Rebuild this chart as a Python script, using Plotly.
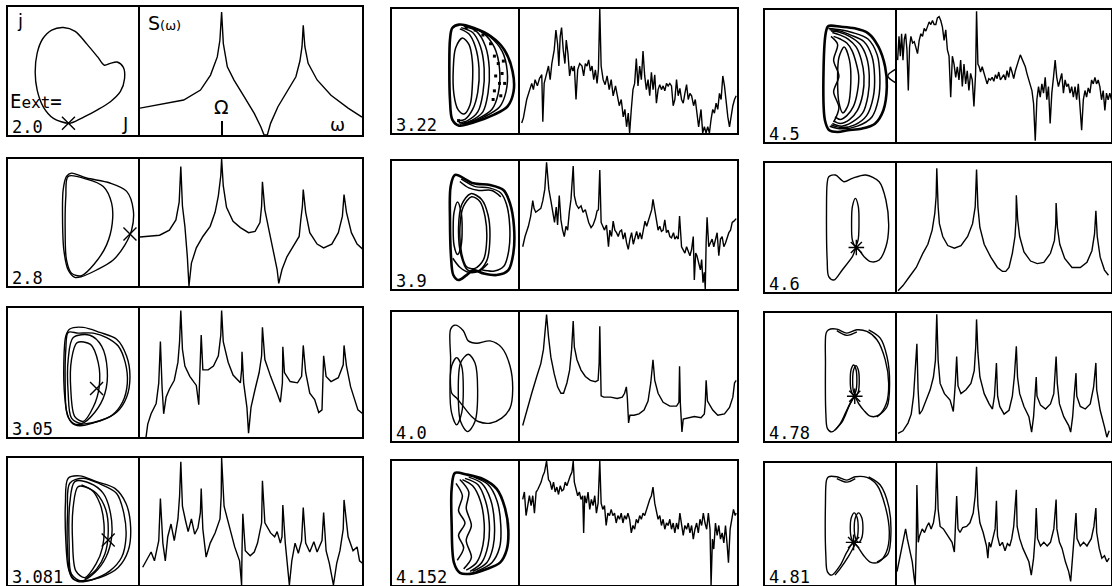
import plotly.graph_objects as go

W, H = 1112, 586

# ---------------------------------------------------------------------------
# Power spectra S(w): pairs (w / Omega, S), S normalised to panel height
# ---------------------------------------------------------------------------
S_2_0 = [(0.0, 0.21), (0.535, 0.273), (0.741, 0.351), (0.864, 0.468), (0.947, 0.61),
         (0.979, 0.74), (1.0, 0.96), (1.021, 0.714), (1.07, 0.532), (1.152, 0.429),
         (1.276, 0.299), (1.40, 0.169), (1.48, 0.065), (1.52, 0.0), (1.56, 0.0),
         (1.60, 0.091), (1.69, 0.221), (1.81, 0.351), (1.91, 0.455), (1.96, 0.58),
         (1.985, 0.69), (2.0, 0.857), (2.02, 0.69), (2.06, 0.56), (2.17, 0.43),
         (2.34, 0.31), (2.55, 0.21), (2.72, 0.14)]

S_2_8 = [(0.0, 0.386), (0.24, 0.40), (0.36, 0.44), (0.44, 0.52), (0.48, 0.66), (0.5, 0.94),
         (0.52, 0.63), (0.55, 0.47), (0.58, 0.23), (0.60, 0.0), (0.63, 0.18), (0.69, 0.30),
         (0.77, 0.39), (0.86, 0.47), (0.92, 0.58), (0.96, 0.71), (0.99, 0.87), (1.0, 1.0),
         (1.02, 0.79), (1.06, 0.62), (1.14, 0.51), (1.23, 0.46), (1.33, 0.42), (1.41, 0.43),
         (1.47, 0.50), (1.49, 0.63), (1.5, 0.82), (1.53, 0.60), (1.58, 0.44), (1.63, 0.29),
         (1.68, 0.13), (1.70, 0.02), (1.74, 0.13), (1.80, 0.23), (1.88, 0.31), (1.95, 0.39),
         (1.97, 0.52), (1.99, 0.63), (2.0, 0.76), (2.03, 0.58), (2.08, 0.42), (2.17, 0.33),
         (2.25, 0.30), (2.35, 0.33), (2.43, 0.42), (2.48, 0.55), (2.5, 0.72), (2.53, 0.58),
         (2.59, 0.42), (2.66, 0.33), (2.73, 0.29)]

S_3_05 = [(0.074, 0.0), (0.095, 0.10), (0.136, 0.18), (0.198, 0.26), (0.23, 0.42), (0.25, 0.74),
          (0.27, 0.39), (0.29, 0.18), (0.32, 0.31), (0.36, 0.37), (0.42, 0.44), (0.465, 0.58),
          (0.485, 0.74), (0.5, 0.98), (0.52, 0.68), (0.55, 0.55), (0.61, 0.47), (0.69, 0.40),
          (0.72, 0.25), (0.74, 0.55), (0.75, 0.79), (0.77, 0.52), (0.835, 0.52), (0.90, 0.55),
          (0.96, 0.63), (0.99, 0.79), (1.0, 0.98), (1.02, 0.74), (1.08, 0.58), (1.14, 0.48),
          (1.23, 0.42), (1.245, 0.52), (1.25, 0.66), (1.27, 0.42), (1.31, 0.23), (1.33, 0.03),
          (1.36, 0.23), (1.41, 0.37), (1.46, 0.50), (1.49, 0.63), (1.5, 0.85), (1.53, 0.60),
          (1.60, 0.47), (1.68, 0.34), (1.72, 0.27), (1.745, 0.42), (1.75, 0.70), (1.77, 0.50),
          (1.84, 0.43), (1.93, 0.42), (1.98, 0.47), (1.99, 0.58), (2.0, 0.71), (2.03, 0.50),
          (2.08, 0.34), (2.14, 0.29), (2.19, 0.19), (2.23, 0.21), (2.245, 0.44), (2.25, 0.63),
          (2.28, 0.47), (2.34, 0.43), (2.43, 0.46), (2.49, 0.56), (2.5, 0.71), (2.53, 0.55),
          (2.58, 0.39), (2.62, 0.31), (2.67, 0.21), (2.73, 0.18)]

S_3_081 = [(0.033, 0.14), (0.136, 0.26), (0.177, 0.19), (0.23, 0.35), (0.25, 0.68), (0.28, 0.33),
           (0.31, 0.19), (0.34, 0.38), (0.38, 0.48), (0.42, 0.35), (0.465, 0.52), (0.485, 0.70),
           (0.5, 0.97), (0.52, 0.62), (0.56, 0.50), (0.59, 0.42), (0.63, 0.52), (0.67, 0.40),
           (0.71, 0.45), (0.74, 0.57), (0.75, 0.76), (0.77, 0.44), (0.81, 0.22), (0.86, 0.33),
           (0.92, 0.41), (0.98, 0.52), (0.995, 0.70), (1.0, 1.0), (1.03, 0.62), (1.10, 0.44),
           (1.16, 0.30), (1.22, 0.19), (1.245, 0.0), (1.25, 0.27), (1.26, 0.56), (1.29, 0.27),
           (1.35, 0.23), (1.40, 0.26), (1.44, 0.33), (1.49, 0.49), (1.5, 0.82), (1.53, 0.49),
           (1.60, 0.41), (1.65, 0.38), (1.68, 0.42), (1.72, 0.33), (1.74, 0.38), (1.75, 0.63),
           (1.78, 0.33), (1.83, 0.0), (1.86, 0.19), (1.90, 0.33), (1.94, 0.25), (1.98, 0.35),
           (2.0, 0.61), (2.03, 0.33), (2.08, 0.26), (2.13, 0.34), (2.17, 0.26), (2.23, 0.35),
           (2.25, 0.57), (2.28, 0.27), (2.32, 0.17), (2.37, 0.0), (2.41, 0.17), (2.45, 0.27),
           (2.49, 0.44), (2.5, 0.67), (2.55, 0.38), (2.61, 0.27), (2.66, 0.30), (2.69, 0.19),
           (2.73, 0.17)]

S_3_22 = [(0.021, 0.08), (0.042, 0.12), (0.084, 0.27), (0.118, 0.35), (0.147, 0.40), (0.168, 0.35),
          (0.189, 0.43), (0.218, 0.38), (0.244, 0.44), (0.273, 0.47), (0.286, 0.09), (0.303, 0.40),
          (0.328, 0.46), (0.357, 0.54), (0.378, 0.43), (0.399, 0.56), (0.429, 0.67), (0.450, 0.83),
          (0.471, 0.72), (0.487, 0.54), (0.504, 0.78), (0.521, 0.85), (0.542, 0.67), (0.563, 0.56),
          (0.580, 0.75), (0.601, 0.64), (0.622, 0.46), (0.643, 0.54), (0.664, 0.50), (0.681, 0.54),
          (0.702, 0.27), (0.723, 0.51), (0.748, 0.56), (0.777, 0.54), (0.798, 0.46), (0.819, 0.56),
          (0.840, 0.54), (0.861, 0.59), (0.882, 0.50), (0.903, 0.54), (0.924, 0.43), (0.945, 0.51),
          (0.966, 0.40), (0.983, 0.51), (1.0, 1.0), (1.017, 0.54), (1.042, 0.43), (1.067, 0.39),
          (1.092, 0.46), (1.118, 0.35), (1.143, 0.43), (1.168, 0.30), (1.197, 0.38), (1.218, 0.30),
          (1.244, 0.22), (1.269, 0.27), (1.294, 0.13), (1.315, 0.19), (1.336, 0.05), (1.357, 0.16),
          (1.374, 0.0), (1.395, 0.19), (1.416, 0.35), (1.437, 0.40), (1.458, 0.60), (1.479, 0.38),
          (1.500, 0.54), (1.521, 0.43), (1.542, 0.66), (1.563, 0.46), (1.584, 0.35), (1.605, 0.43),
          (1.626, 0.30), (1.647, 0.49), (1.668, 0.35), (1.689, 0.47), (1.710, 0.24), (1.731, 0.35),
          (1.752, 0.39), (1.773, 0.35), (1.794, 0.38), (1.815, 0.34), (1.836, 0.40), (1.857, 0.38),
          (1.878, 0.40), (1.899, 0.38), (1.920, 0.22), (1.941, 0.27), (1.962, 0.43), (1.983, 0.30),
          (2.004, 0.36), (2.025, 0.27), (2.046, 0.24), (2.067, 0.32), (2.088, 0.39), (2.109, 0.27),
          (2.130, 0.32), (2.151, 0.30), (2.176, 0.22), (2.197, 0.27), (2.218, 0.13), (2.239, 0.05),
          (2.269, 0.19), (2.290, 0.0), (2.311, 0.05), (2.332, 0.0), (2.353, 0.05), (2.374, 0.0),
          (2.395, 0.11), (2.416, 0.19), (2.437, 0.16), (2.458, 0.24), (2.479, 0.19), (2.500, 0.32),
          (2.521, 0.27), (2.542, 0.46), (2.563, 0.38), (2.584, 0.22), (2.605, 0.13), (2.626, 0.05),
          (2.647, 0.16), (2.668, 0.22), (2.689, 0.27), (2.710, 0.30)]

S_3_9 = [(0.034, 0.33), (0.063, 0.41), (0.105, 0.49), (0.134, 0.57), (0.160, 0.69), (0.176, 0.63),
         (0.197, 0.60), (0.231, 0.62), (0.261, 0.63), (0.286, 0.69), (0.311, 0.78), (0.333, 0.99),
         (0.361, 0.78), (0.387, 0.69), (0.412, 0.60), (0.433, 0.52), (0.454, 0.64), (0.471, 0.50),
         (0.492, 0.73), (0.513, 0.54), (0.534, 0.46), (0.555, 0.41), (0.576, 0.49), (0.597, 0.46),
         (0.618, 0.60), (0.639, 0.70), (0.667, 0.96), (0.681, 0.73), (0.706, 0.66), (0.735, 0.63),
         (0.765, 0.65), (0.790, 0.60), (0.819, 0.62), (0.840, 0.57), (0.861, 0.52), (0.891, 0.48),
         (0.916, 0.50), (0.945, 0.55), (0.966, 0.61), (0.983, 0.62), (1.0, 0.93), (1.017, 0.52),
         (1.038, 0.49), (1.059, 0.46), (1.084, 0.50), (1.109, 0.33), (1.126, 0.46), (1.147, 0.41),
         (1.168, 0.53), (1.189, 0.46), (1.210, 0.44), (1.231, 0.41), (1.252, 0.45), (1.273, 0.46),
         (1.294, 0.39), (1.315, 0.44), (1.336, 0.36), (1.357, 0.31), (1.378, 0.39), (1.399, 0.44),
         (1.420, 0.35), (1.441, 0.41), (1.462, 0.45), (1.483, 0.39), (1.504, 0.44), (1.525, 0.39),
         (1.546, 0.46), (1.567, 0.53), (1.588, 0.49), (1.609, 0.54), (1.630, 0.58), (1.651, 0.62),
         (1.667, 0.70), (1.689, 0.60), (1.710, 0.54), (1.731, 0.46), (1.752, 0.49), (1.773, 0.45),
         (1.794, 0.46), (1.815, 0.54), (1.836, 0.44), (1.857, 0.46), (1.878, 0.41), (1.899, 0.40),
         (1.924, 0.44), (1.941, 0.39), (1.962, 0.41), (1.983, 0.39), (2.0, 0.57), (2.025, 0.33),
         (2.046, 0.31), (2.067, 0.28), (2.088, 0.33), (2.109, 0.30), (2.130, 0.26), (2.151, 0.31),
         (2.172, 0.41), (2.185, 0.07), (2.202, 0.28), (2.218, 0.26), (2.239, 0.20), (2.261, 0.15),
         (2.277, 0.23), (2.294, 0.05), (2.311, 0.13), (2.322, 0.0), (2.333, 0.36), (2.345, 0.56),
         (2.366, 0.33), (2.387, 0.36), (2.408, 0.39), (2.429, 0.33), (2.450, 0.39), (2.471, 0.44),
         (2.492, 0.26), (2.513, 0.39), (2.534, 0.41), (2.555, 0.33), (2.576, 0.36), (2.597, 0.41),
         (2.618, 0.44), (2.639, 0.46), (2.660, 0.52), (2.681, 0.53), (2.710, 0.55)]

S_4_0 = [(0.034, 0.12), (0.084, 0.24), (0.147, 0.37), (0.210, 0.50), (0.261, 0.60), (0.294, 0.71),
         (0.319, 0.86), (0.333, 0.98), (0.357, 0.81), (0.387, 0.65), (0.429, 0.52), (0.471, 0.42),
         (0.513, 0.37), (0.546, 0.37), (0.588, 0.45), (0.622, 0.55), (0.647, 0.71), (0.667, 0.93),
         (0.681, 0.73), (0.714, 0.63), (0.765, 0.55), (0.819, 0.50), (0.882, 0.47), (0.945, 0.46),
         (0.979, 0.47), (0.992, 0.60), (1.0, 0.89), (1.008, 0.60), (1.017, 0.35), (1.050, 0.34),
         (1.134, 0.34), (1.218, 0.33), (1.282, 0.34), (1.311, 0.37), (1.333, 0.42), (1.345, 0.34),
         (1.361, 0.14), (1.378, 0.20), (1.429, 0.20), (1.492, 0.21), (1.555, 0.24), (1.605, 0.31),
         (1.639, 0.45), (1.667, 0.63), (1.689, 0.47), (1.731, 0.37), (1.794, 0.30), (1.878, 0.27),
         (1.962, 0.27), (1.992, 0.30), (2.0, 0.58), (2.01, 0.29), (2.03, 0.07), (2.046, 0.17),
         (2.10, 0.18), (2.185, 0.19), (2.269, 0.18), (2.311, 0.21), (2.322, 0.29), (2.333, 0.47),
         (2.35, 0.31), (2.416, 0.24), (2.479, 0.20), (2.563, 0.21), (2.626, 0.26), (2.668, 0.34),
         (2.689, 0.45), (2.710, 0.47)]

S_4_152 = [(0.034, 0.69), (0.055, 0.75), (0.076, 0.56), (0.097, 0.66), (0.118, 0.72), (0.139, 0.64),
           (0.160, 0.72), (0.181, 0.58), (0.202, 0.75), (0.223, 0.77), (0.244, 0.80), (0.265, 0.83),
           (0.286, 0.88), (0.307, 0.91), (0.333, 1.0), (0.357, 0.85), (0.378, 0.83), (0.399, 0.77),
           (0.420, 0.83), (0.441, 0.75), (0.462, 0.79), (0.483, 0.73), (0.504, 0.80), (0.525, 0.76),
           (0.546, 0.77), (0.567, 0.83), (0.588, 0.80), (0.609, 0.85), (0.630, 0.88), (0.651, 0.91),
           (0.667, 1.0), (0.681, 0.83), (0.702, 0.77), (0.723, 0.72), (0.744, 0.75), (0.765, 0.69),
           (0.786, 0.72), (0.798, 0.42), (0.811, 0.72), (0.832, 0.66), (0.853, 0.75), (0.874, 0.61),
           (0.895, 0.69), (0.916, 0.64), (0.937, 0.72), (0.958, 0.58), (0.979, 0.66), (1.0, 1.0),
           (1.017, 0.66), (1.038, 0.61), (1.059, 0.64), (1.080, 0.48), (1.101, 0.58), (1.122, 0.56),
           (1.143, 0.61), (1.164, 0.56), (1.185, 0.58), (1.206, 0.50), (1.227, 0.56), (1.248, 0.53),
           (1.269, 0.58), (1.290, 0.50), (1.311, 0.56), (1.332, 0.53), (1.353, 0.58), (1.374, 0.53),
           (1.395, 0.42), (1.416, 0.48), (1.437, 0.45), (1.458, 0.53), (1.479, 0.50), (1.500, 0.56),
           (1.521, 0.53), (1.542, 0.58), (1.563, 0.56), (1.584, 0.61), (1.605, 0.64), (1.626, 0.69),
           (1.647, 0.72), (1.667, 0.79), (1.689, 0.66), (1.710, 0.58), (1.731, 0.53), (1.752, 0.56),
           (1.773, 0.48), (1.794, 0.53), (1.815, 0.45), (1.836, 0.50), (1.857, 0.48), (1.878, 0.53),
           (1.899, 0.45), (1.920, 0.50), (1.941, 0.42), (1.962, 0.50), (1.983, 0.45), (2.004, 0.58),
           (2.025, 0.48), (2.046, 0.40), (2.067, 0.48), (2.088, 0.45), (2.109, 0.50), (2.130, 0.42),
           (2.151, 0.48), (2.172, 0.37), (2.193, 0.45), (2.214, 0.50), (2.235, 0.42), (2.256, 0.53),
           (2.277, 0.48), (2.298, 0.58), (2.319, 0.50), (2.340, 0.45), (2.361, 0.58), (2.382, 0.45),
           (2.395, 0.0), (2.412, 0.37), (2.429, 0.29), (2.450, 0.50), (2.471, 0.40), (2.492, 0.48),
           (2.513, 0.37), (2.534, 0.42), (2.555, 0.34), (2.576, 0.48), (2.597, 0.32), (2.613, 0.18),
           (2.634, 0.45), (2.655, 0.53), (2.676, 0.61), (2.697, 0.56), (2.710, 0.58)]

S_4_5 = [(0.008, 0.62), (0.025, 0.80), (0.042, 0.65), (0.058, 0.82), (0.075, 0.62), (0.092, 0.78),
         (0.108, 0.82), (0.125, 0.70), (0.142, 0.39), (0.158, 0.72), (0.175, 0.80), (0.196, 0.75),
         (0.217, 0.76), (0.238, 0.70), (0.258, 0.67), (0.279, 0.77), (0.300, 0.82), (0.321, 0.80),
         (0.342, 0.86), (0.363, 0.84), (0.383, 0.87), (0.404, 0.91), (0.425, 0.89), (0.446, 0.92),
         (0.467, 0.89), (0.488, 0.89), (0.508, 0.94), (0.529, 0.95), (0.550, 0.92), (0.571, 0.87),
         (0.592, 0.77), (0.613, 0.85), (0.633, 0.70), (0.654, 0.65), (0.675, 0.34), (0.696, 0.65),
         (0.717, 0.59), (0.738, 0.49), (0.758, 0.57), (0.779, 0.47), (0.800, 0.62), (0.821, 0.42),
         (0.842, 0.59), (0.863, 0.44), (0.883, 0.54), (0.904, 0.39), (0.925, 0.52), (0.946, 0.47),
         (0.967, 0.27), (0.988, 0.52), (1.0, 0.99), (1.017, 0.59), (1.033, 0.57), (1.050, 0.53),
         (1.071, 0.57), (1.092, 0.52), (1.113, 0.49), (1.133, 0.44), (1.154, 0.48), (1.175, 0.47),
         (1.196, 0.49), (1.217, 0.46), (1.238, 0.51), (1.258, 0.48), (1.279, 0.53), (1.300, 0.47),
         (1.321, 0.49), (1.342, 0.51), (1.363, 0.47), (1.383, 0.54), (1.404, 0.49), (1.425, 0.57),
         (1.446, 0.53), (1.467, 0.48), (1.488, 0.54), (1.508, 0.59), (1.529, 0.62), (1.550, 0.66),
         (1.571, 0.63), (1.592, 0.59), (1.613, 0.57), (1.633, 0.52), (1.654, 0.47), (1.675, 0.44),
         (1.696, 0.39), (1.717, 0.29), (1.738, 0.01), (1.758, 0.32), (1.779, 0.42), (1.800, 0.34),
         (1.821, 0.44), (1.842, 0.37), (1.863, 0.49), (1.883, 0.32), (1.904, 0.42), (1.925, 0.14),
         (1.946, 0.37), (1.967, 0.49), (1.988, 0.62), (2.008, 0.49), (2.029, 0.42), (2.050, 0.47),
         (2.071, 0.52), (2.092, 0.37), (2.113, 0.47), (2.133, 0.42), (2.154, 0.44), (2.175, 0.37),
         (2.196, 0.42), (2.217, 0.34), (2.238, 0.42), (2.258, 0.32), (2.279, 0.44), (2.300, 0.27),
         (2.321, 0.09), (2.342, 0.32), (2.363, 0.39), (2.383, 0.34), (2.404, 0.41), (2.425, 0.37),
         (2.446, 0.47), (2.467, 0.44), (2.488, 0.49), (2.508, 0.44), (2.529, 0.47), (2.550, 0.42),
         (2.571, 0.32), (2.592, 0.39), (2.613, 0.24), (2.633, 0.37), (2.654, 0.32), (2.675, 0.37),
         (2.696, 0.32)]

S_4_6 = [(0.013, 0.01), (0.075, 0.05), (0.158, 0.12), (0.242, 0.19), (0.325, 0.30), (0.388, 0.37),
         (0.442, 0.48), (0.475, 0.61), (0.492, 0.74), (0.5, 0.96), (0.517, 0.66), (0.533, 0.53),
         (0.575, 0.43), (0.638, 0.36), (0.721, 0.34), (0.804, 0.36), (0.888, 0.43), (0.950, 0.53),
         (0.983, 0.66), (1.0, 0.95), (1.017, 0.66), (1.042, 0.50), (1.096, 0.37), (1.179, 0.27),
         (1.262, 0.19), (1.325, 0.16), (1.367, 0.16), (1.408, 0.19), (1.450, 0.30), (1.483, 0.43),
         (1.496, 0.56), (1.5, 0.75), (1.517, 0.56), (1.542, 0.43), (1.596, 0.31), (1.679, 0.24),
         (1.763, 0.22), (1.846, 0.23), (1.929, 0.30), (1.979, 0.40), (1.996, 0.53), (2.0, 0.69),
         (2.017, 0.50), (2.046, 0.37), (2.108, 0.26), (2.200, 0.19), (2.304, 0.19), (2.388, 0.23),
         (2.450, 0.32), (2.483, 0.45), (2.5, 0.63), (2.517, 0.43), (2.554, 0.27), (2.608, 0.17),
         (2.658, 0.13)]

S_4_78 = [(0.013, 0.06), (0.075, 0.08), (0.138, 0.14), (0.179, 0.21), (0.208, 0.35), (0.232, 0.55),
          (0.25, 0.76), (0.265, 0.40), (0.283, 0.21), (0.317, 0.24), (0.367, 0.32), (0.417, 0.40),
          (0.458, 0.50), (0.483, 0.63), (0.5, 0.99), (0.517, 0.63), (0.542, 0.45), (0.596, 0.37),
          (0.667, 0.32), (0.708, 0.23), (0.733, 0.45), (0.75, 0.66), (0.767, 0.43), (0.804, 0.37),
          (0.867, 0.40), (0.929, 0.45), (0.971, 0.55), (0.990, 0.74), (1.0, 0.95), (1.017, 0.69),
          (1.042, 0.50), (1.096, 0.37), (1.158, 0.29), (1.200, 0.25), (1.225, 0.35), (1.25, 0.61),
          (1.265, 0.35), (1.292, 0.27), (1.346, 0.21), (1.408, 0.24), (1.450, 0.35), (1.475, 0.50),
          (1.5, 0.74), (1.515, 0.50), (1.542, 0.37), (1.596, 0.27), (1.658, 0.19), (1.692, 0.07),
          (1.717, 0.19), (1.733, 0.35), (1.75, 0.50), (1.76, 0.35), (1.804, 0.28), (1.867, 0.25),
          (1.929, 0.29), (1.971, 0.37), (2.0, 0.66), (2.015, 0.45), (2.042, 0.29), (2.096, 0.19),
          (2.158, 0.12), (2.183, 0.07), (2.208, 0.19), (2.229, 0.37), (2.25, 0.53), (2.26, 0.35),
          (2.304, 0.27), (2.367, 0.25), (2.429, 0.29), (2.471, 0.42), (2.5, 0.61), (2.51, 0.40),
          (2.554, 0.24), (2.608, 0.11), (2.638, 0.03), (2.667, 0.08)]

S_4_81 = [(0.0, 0.11), (0.025, 0.19), (0.054, 0.27), (0.083, 0.35), (0.108, 0.46), (0.129, 0.38),
          (0.158, 0.30), (0.192, 0.19), (0.217, 0.05), (0.229, 0.0), (0.242, 0.32), (0.25, 0.82),
          (0.267, 0.35), (0.283, 0.40), (0.317, 0.46), (0.346, 0.43), (0.375, 0.48), (0.400, 0.51),
          (0.429, 0.46), (0.458, 0.51), (0.483, 0.62), (0.5, 1.0), (0.517, 0.62), (0.542, 0.48),
          (0.583, 0.46), (0.638, 0.40), (0.692, 0.35), (0.721, 0.27), (0.733, 0.46), (0.75, 0.73),
          (0.767, 0.46), (0.792, 0.43), (0.825, 0.47), (0.875, 0.48), (0.917, 0.51), (0.958, 0.59),
          (0.983, 0.73), (1.0, 0.97), (1.017, 0.65), (1.042, 0.51), (1.083, 0.43), (1.125, 0.32),
          (1.142, 0.22), (1.158, 0.35), (1.179, 0.31), (1.208, 0.38), (1.233, 0.46), (1.25, 0.69),
          (1.263, 0.40), (1.292, 0.32), (1.325, 0.35), (1.358, 0.28), (1.388, 0.34), (1.417, 0.32),
          (1.442, 0.38), (1.467, 0.48), (1.5, 0.78), (1.51, 0.48), (1.542, 0.38), (1.583, 0.30),
          (1.625, 0.24), (1.658, 0.19), (1.688, 0.08), (1.717, 0.22), (1.737, 0.40), (1.75, 0.63),
          (1.767, 0.38), (1.804, 0.32), (1.846, 0.35), (1.888, 0.32), (1.929, 0.35), (1.971, 0.46),
          (2.0, 0.70), (2.01, 0.46), (2.042, 0.35), (2.075, 0.30), (2.117, 0.19), (2.158, 0.11),
          (2.183, 0.03), (2.208, 0.22), (2.233, 0.40), (2.25, 0.59), (2.263, 0.38), (2.304, 0.32),
          (2.346, 0.35), (2.388, 0.32), (2.442, 0.38), (2.475, 0.48), (2.5, 0.63), (2.51, 0.43),
          (2.542, 0.30), (2.575, 0.22), (2.608, 0.24), (2.638, 0.19), (2.667, 0.22)]

# ---------------------------------------------------------------------------
# Phase portraits (J, dJ/dt), normalised to the portrait box; lists of curves
# ---------------------------------------------------------------------------
P_2_0 = [
    [(0.458, 0.091), (0.344, 0.13), (0.267, 0.22), (0.221, 0.35), (0.206, 0.49), (0.221, 0.64),
     (0.262, 0.75), (0.331, 0.82), (0.42, 0.84), (0.509, 0.81), (0.598, 0.71), (0.679, 0.61),
     (0.730, 0.545), (0.776, 0.56), (0.827, 0.57), (0.873, 0.53), (0.883, 0.44), (0.852, 0.34),
     (0.776, 0.26), (0.674, 0.195), (0.573, 0.14), (0.483, 0.096), (0.458, 0.091)],
]
P_2_8 = [
    [(0.456, 0.863), (0.595, 0.842), (0.722, 0.784), (0.785, 0.653), (0.790, 0.495), (0.747, 0.324),
     (0.658, 0.179), (0.557, 0.082), (0.481, 0.10), (0.443, 0.205), (0.433, 0.442), (0.438, 0.705),
     (0.456, 0.863)],
    [(0.481, 0.889), (0.595, 0.850), (0.772, 0.811), (0.899, 0.745), (0.949, 0.60), (0.937, 0.442),
     (0.886, 0.324), (0.797, 0.205), (0.671, 0.126), (0.557, 0.074), (0.506, 0.068), (0.456, 0.126),
     (0.423, 0.284), (0.413, 0.547), (0.418, 0.758), (0.443, 0.863), (0.481, 0.889)],
]
P_3_05 = [
    [(0.468, 0.837), (0.570, 0.850), (0.696, 0.811), (0.823, 0.758), (0.899, 0.626), (0.924, 0.468),
     (0.899, 0.311), (0.823, 0.192), (0.696, 0.126), (0.570, 0.10), (0.506, 0.10), (0.456, 0.153),
     (0.430, 0.311), (0.423, 0.574), (0.438, 0.784), (0.468, 0.837)],
    [(0.456, 0.811), (0.532, 0.805), (0.646, 0.805), (0.747, 0.771), (0.835, 0.705), (0.889, 0.574),
     (0.904, 0.416), (0.868, 0.271), (0.785, 0.166), (0.658, 0.113), (0.544, 0.087), (0.481, 0.113),
     (0.443, 0.205), (0.433, 0.416), (0.438, 0.679), (0.456, 0.811)],
    [(0.494, 0.771), (0.620, 0.789), (0.709, 0.705), (0.752, 0.521), (0.734, 0.337), (0.658, 0.192),
     (0.557, 0.105), (0.481, 0.147), (0.456, 0.337), (0.456, 0.60), (0.494, 0.771)],
    [(0.524, 0.732), (0.625, 0.718), (0.684, 0.574), (0.691, 0.389), (0.646, 0.232), (0.570, 0.121),
     (0.506, 0.158), (0.476, 0.363), (0.481, 0.60), (0.524, 0.732)],
]
P_3_081 = [
    [(0.456, 0.841), (0.544, 0.859), (0.671, 0.814), (0.810, 0.761), (0.894, 0.642), (0.929, 0.456),
     (0.911, 0.271), (0.835, 0.138), (0.696, 0.058), (0.570, 0.032), (0.494, 0.045), (0.456, 0.138),
     (0.438, 0.350), (0.435, 0.642), (0.456, 0.841)],
    [(0.468, 0.801), (0.570, 0.841), (0.696, 0.796), (0.823, 0.721), (0.878, 0.562), (0.894, 0.377),
     (0.861, 0.218), (0.772, 0.111), (0.646, 0.045), (0.532, 0.027), (0.473, 0.085), (0.451, 0.271),
     (0.451, 0.562), (0.468, 0.801)],
    [(0.506, 0.814), (0.620, 0.801), (0.722, 0.721), (0.777, 0.562), (0.785, 0.377), (0.742, 0.218),
     (0.658, 0.098), (0.557, 0.032), (0.481, 0.085), (0.463, 0.324), (0.468, 0.642), (0.506, 0.814)],
    [(0.532, 0.775), (0.633, 0.748), (0.696, 0.642), (0.727, 0.483), (0.716, 0.297), (0.666, 0.164),
     (0.582, 0.058), (0.514, 0.111), (0.489, 0.350), (0.494, 0.615), (0.532, 0.775)],
    [(0.557, 0.788), (0.671, 0.721), (0.742, 0.589), (0.759, 0.403), (0.734, 0.244), (0.671, 0.125),
     (0.582, 0.045)],
]
P_3_22 = [
    [(0.471, 0.847), (0.524, 0.874), (0.641, 0.847), (0.772, 0.780), (0.877, 0.672), (0.942, 0.497),
     (0.950, 0.336), (0.903, 0.215), (0.798, 0.148), (0.641, 0.086), (0.524, 0.059), (0.471, 0.108),
     (0.453, 0.269), (0.448, 0.538), (0.453, 0.753), (0.471, 0.847)],
    [(0.550, 0.766), (0.602, 0.712), (0.628, 0.578), (0.628, 0.390), (0.610, 0.228), (0.563, 0.153),
     (0.516, 0.188), (0.484, 0.309), (0.479, 0.524), (0.497, 0.685), (0.550, 0.766)],
    [(0.53, 0.84), (0.60, 0.80), (0.65, 0.70), (0.68, 0.52), (0.67, 0.33), (0.63, 0.19), (0.57, 0.11), (0.52, 0.10)],
    [(0.54, 0.85), (0.63, 0.81), (0.69, 0.70), (0.72, 0.52), (0.71, 0.32), (0.67, 0.17), (0.59, 0.10), (0.52, 0.08)],
    [(0.56, 0.86), (0.66, 0.82), (0.73, 0.70), (0.76, 0.52), (0.75, 0.32), (0.71, 0.17), (0.62, 0.10), (0.53, 0.07)],
    [(0.60, 0.86), (0.72, 0.80), (0.80, 0.69), (0.84, 0.52), (0.83, 0.32), (0.78, 0.19), (0.66, 0.11), (0.55, 0.07)],
    [(0.63, 0.85), (0.76, 0.78), (0.86, 0.66), (0.90, 0.50), (0.89, 0.33), (0.84, 0.21), (0.72, 0.13), (0.58, 0.07)],
]
DOTS_3_22 = [(0.80, 0.62), (0.83, 0.56), (0.86, 0.48), (0.81, 0.46), (0.84, 0.40), (0.80, 0.34),
             (0.85, 0.30), (0.79, 0.27), (0.77, 0.72), (0.71, 0.79), (0.65, 0.83), (0.58, 0.85),
             (0.88, 0.40), (0.87, 0.58), (0.52, 0.10), (0.57, 0.08), (0.62, 0.09)]
P_3_9 = [
    [(0.492, 0.891), (0.635, 0.826), (0.766, 0.812), (0.870, 0.773), (0.922, 0.669), (0.953, 0.487),
     (0.948, 0.279), (0.909, 0.148), (0.818, 0.109), (0.714, 0.122), (0.635, 0.148), (0.583, 0.109),
     (0.518, 0.070), (0.479, 0.109), (0.461, 0.253), (0.453, 0.539), (0.458, 0.799), (0.492, 0.891)],
    [(0.540, 0.860), (0.650, 0.800), (0.760, 0.790), (0.850, 0.750), (0.895, 0.660), (0.920, 0.487),
     (0.912, 0.300), (0.875, 0.180), (0.800, 0.140), (0.700, 0.150)],
    [(0.622, 0.721), (0.688, 0.682), (0.727, 0.565), (0.740, 0.383), (0.714, 0.227), (0.648, 0.161),
     (0.583, 0.174), (0.544, 0.279), (0.531, 0.487), (0.557, 0.643), (0.622, 0.721)],
    [(0.615, 0.745), (0.700, 0.700), (0.750, 0.580), (0.765, 0.400), (0.740, 0.220), (0.670, 0.140),
     (0.590, 0.150), (0.540, 0.260), (0.520, 0.480), (0.545, 0.660), (0.615, 0.745)],
    [(0.512, 0.68), (0.540, 0.60), (0.548, 0.48), (0.540, 0.34), (0.512, 0.27), (0.485, 0.34),
     (0.478, 0.48), (0.485, 0.60), (0.512, 0.68)],
    [(0.475, 0.24), (0.53, 0.17), (0.60, 0.13), (0.68, 0.14), (0.75, 0.20)],
    [(0.53, 0.84), (0.60, 0.79), (0.68, 0.77), (0.78, 0.77), (0.85, 0.72)],
]
P_4_0 = [
    [(0.458, 0.867), (0.492, 0.898), (0.557, 0.854), (0.596, 0.776), (0.661, 0.758), (0.766, 0.776),
     (0.857, 0.724), (0.922, 0.581), (0.943, 0.398), (0.922, 0.255), (0.857, 0.177), (0.766, 0.138),
     (0.674, 0.151), (0.622, 0.190), (0.557, 0.268), (0.505, 0.333), (0.466, 0.372), (0.458, 0.646),
     (0.458, 0.867)],
    [(0.505, 0.646), (0.544, 0.581), (0.557, 0.398), (0.544, 0.216), (0.505, 0.125), (0.466, 0.216),
     (0.453, 0.398), (0.466, 0.581), (0.505, 0.646)],
    [(0.596, 0.672), (0.648, 0.607), (0.669, 0.398), (0.648, 0.151), (0.591, 0.073), (0.536, 0.151),
     (0.518, 0.372), (0.536, 0.607), (0.596, 0.672)],
]
P_4_152 = [
    [(0.492, 0.904), (0.583, 0.891), (0.714, 0.853), (0.818, 0.775), (0.883, 0.620), (0.909, 0.439),
     (0.896, 0.284), (0.844, 0.181), (0.740, 0.129), (0.609, 0.090), (0.531, 0.098), (0.484, 0.181),
     (0.466, 0.491), (0.466, 0.775), (0.492, 0.904)],
    [(0.55, 0.85), (0.63, 0.80), (0.69, 0.68), (0.72, 0.50), (0.71, 0.32), (0.66, 0.18), (0.58, 0.12)],
    [(0.57, 0.86), (0.67, 0.81), (0.73, 0.68), (0.76, 0.50), (0.75, 0.32), (0.70, 0.18), (0.61, 0.11)],
    [(0.60, 0.87), (0.70, 0.82), (0.77, 0.69), (0.80, 0.50), (0.79, 0.31), (0.74, 0.18), (0.63, 0.11)],
    [(0.64, 0.87), (0.75, 0.81), (0.82, 0.68), (0.85, 0.48), (0.84, 0.30), (0.78, 0.18), (0.66, 0.11)],
    [(0.50, 0.82), (0.55, 0.72), (0.52, 0.60), (0.57, 0.50), (0.52, 0.40), (0.56, 0.30), (0.51, 0.20)],
    [(0.53, 0.85), (0.60, 0.75), (0.58, 0.62), (0.62, 0.48), (0.58, 0.36), (0.62, 0.22), (0.56, 0.13)],
]
P_4_5 = [
    [(0.479, 0.878), (0.577, 0.873), (0.679, 0.861), (0.782, 0.823), (0.859, 0.722), (0.910, 0.570),
     (0.923, 0.418), (0.897, 0.241), (0.833, 0.139), (0.731, 0.101), (0.628, 0.089), (0.551, 0.076),
     (0.487, 0.089), (0.454, 0.165), (0.444, 0.570), (0.462, 0.835), (0.479, 0.878)],
    [(0.48, 0.86), (0.57, 0.85), (0.66, 0.83), (0.78, 0.78), (0.85, 0.66), (0.87, 0.50), (0.86, 0.33),
     (0.81, 0.19), (0.70, 0.12), (0.58, 0.10), (0.49, 0.12)],
    [(0.49, 0.85), (0.57, 0.84), (0.65, 0.81), (0.75, 0.76), (0.81, 0.65), (0.83, 0.50), (0.82, 0.34),
     (0.77, 0.20), (0.68, 0.13), (0.58, 0.11), (0.50, 0.13)],
    [(0.50, 0.84), (0.57, 0.83), (0.64, 0.80), (0.72, 0.74), (0.77, 0.64), (0.79, 0.50), (0.78, 0.35),
     (0.74, 0.22), (0.66, 0.15), (0.58, 0.12), (0.51, 0.14)],
    [(0.51, 0.83), (0.57, 0.81), (0.63, 0.78), (0.69, 0.72), (0.73, 0.62), (0.75, 0.50), (0.74, 0.36),
     (0.70, 0.24), (0.64, 0.17), (0.57, 0.14), (0.52, 0.16)],
    [(0.52, 0.80), (0.57, 0.78), (0.62, 0.75), (0.66, 0.69), (0.69, 0.60), (0.71, 0.50), (0.70, 0.38),
     (0.67, 0.27), (0.62, 0.20), (0.57, 0.17), (0.53, 0.19)],
    [(0.60, 0.72), (0.64, 0.62), (0.65, 0.45), (0.63, 0.28), (0.59, 0.22), (0.56, 0.30), (0.55, 0.47),
     (0.56, 0.64), (0.60, 0.72)],
    [(0.50, 0.80), (0.55, 0.74), (0.52, 0.62), (0.56, 0.50), (0.52, 0.38), (0.56, 0.26), (0.52, 0.15)],
    [(1.0, 0.557), (0.93, 0.50), (1.0, 0.443)],
]
P_4_6 = [
    [(0.483, 0.894), (0.534, 0.907), (0.598, 0.855), (0.662, 0.881), (0.763, 0.907), (0.865, 0.855),
     (0.916, 0.713), (0.937, 0.506), (0.916, 0.351), (0.865, 0.248), (0.802, 0.235), (0.751, 0.274),
     (0.712, 0.326), (0.692, 0.339), (0.662, 0.274), (0.585, 0.171), (0.522, 0.093), (0.483, 0.119),
     (0.471, 0.248), (0.466, 0.636), (0.471, 0.842), (0.483, 0.894)],
    [(0.685, 0.726), (0.707, 0.661), (0.712, 0.532), (0.705, 0.403), (0.685, 0.357), (0.662, 0.403),
     (0.656, 0.532), (0.662, 0.661), (0.685, 0.726)],
]
P_4_78 = [
    [(0.481, 0.869), (0.544, 0.874), (0.620, 0.843), (0.696, 0.869), (0.772, 0.856), (0.848, 0.791),
     (0.911, 0.634), (0.937, 0.450), (0.919, 0.293), (0.861, 0.202), (0.797, 0.194), (0.747, 0.241),
     (0.709, 0.293), (0.678, 0.346), (0.620, 0.241), (0.570, 0.136), (0.506, 0.071), (0.473, 0.097),
     (0.461, 0.215), (0.458, 0.607), (0.463, 0.843), (0.481, 0.869)],
    [(0.785, 0.869), (0.873, 0.804), (0.924, 0.660), (0.944, 0.450), (0.924, 0.267), (0.848, 0.188)],
    [(0.544, 0.862), (0.620, 0.825), (0.696, 0.852)],
    [(0.671, 0.594), (0.689, 0.560), (0.696, 0.476), (0.689, 0.392), (0.671, 0.358), (0.653, 0.392),
     (0.646, 0.476), (0.653, 0.560), (0.671, 0.594)],
    [(0.689, 0.589), (0.707, 0.555), (0.714, 0.471), (0.707, 0.387), (0.689, 0.353), (0.671, 0.387),
     (0.664, 0.471), (0.671, 0.555), (0.689, 0.589)],
    [(0.684, 0.359), (0.640, 0.280), (0.590, 0.160), (0.530, 0.085)],
]
P_4_81 = [
    [(0.481, 0.887), (0.544, 0.887), (0.620, 0.860), (0.684, 0.887), (0.772, 0.882), (0.848, 0.820),
     (0.911, 0.645), (0.942, 0.430), (0.919, 0.269), (0.861, 0.188), (0.797, 0.188), (0.747, 0.242),
     (0.696, 0.323), (0.671, 0.349), (0.620, 0.269), (0.570, 0.161), (0.506, 0.081), (0.473, 0.108),
     (0.461, 0.242), (0.458, 0.672), (0.466, 0.860), (0.481, 0.887)],
    [(0.785, 0.887), (0.873, 0.820), (0.937, 0.645), (0.954, 0.430), (0.932, 0.255), (0.848, 0.188)],
    [(0.544, 0.872), (0.620, 0.843), (0.684, 0.872)],
    [(0.676, 0.591), (0.697, 0.556), (0.706, 0.470), (0.697, 0.384), (0.676, 0.349), (0.655, 0.384),
     (0.646, 0.470), (0.655, 0.556), (0.676, 0.591)],
    [(0.709, 0.591), (0.732, 0.556), (0.742, 0.470), (0.732, 0.384), (0.709, 0.349), (0.686, 0.384),
     (0.676, 0.470), (0.686, 0.556), (0.709, 0.591)],
    [(0.684, 0.336), (0.630, 0.230), (0.570, 0.134), (0.530, 0.081)],
]

# Poincare-section crossings marked on the portraits
X_2_0 = (0.458, 0.091)
X_2_8 = (0.924, 0.41)
X_3_05 = (0.671, 0.376)
X_3_081 = (0.759, 0.355)
X_4_6 = (0.692, 0.345)
X_4_78 = (0.680, 0.350)
X_4_81 = (0.671, 0.349)

# E_ext values, one per panel (column by column)
E_EXT = ["2.0", "2.8", "3.05", "3.081", "3.22", "3.9", "4.0", "4.152", "4.5", "4.6", "4.78", "4.81"]

# ---------------------------------------------------------------------------
# Panel table: portrait curves, spectrum, crossing, extra dots, heavy outline
# ---------------------------------------------------------------------------
PANELS = [
    (P_2_0, S_2_0, X_2_0, None, False),
    (P_2_8, S_2_8, X_2_8, None, False),
    (P_3_05, S_3_05, X_3_05, None, False),
    (P_3_081, S_3_081, X_3_081, None, False),
    (P_3_22, S_3_22, None, DOTS_3_22, True),
    (P_3_9, S_3_9, None, None, True),
    (P_4_0, S_4_0, None, None, False),
    (P_4_152, S_4_152, None, None, True),
    (P_4_5, S_4_5, None, None, True),
    (P_4_6, S_4_6, X_4_6, None, False),
    (P_4_78, S_4_78, X_4_78, None, False),
    (P_4_81, S_4_81, X_4_81, None, False),
]

# box geometry in page pixels: (left, split, right) per column, (top, bottom) per row
COL_X = [(8, 140, 362), (392, 520, 737), (765, 897, 1111)]
ROW_Y = [
    [(7, 135), (159, 286), (308, 437), (458, 585)],
    [(9, 133), (161, 289), (312, 441), (461, 585)],
    [(10, 142), (163, 292), (313, 441), (463, 585)],
]
W_MAX = [2.72, 2.72, 2.69]

fig = go.Figure()
layout = dict(width=W, height=H, margin=dict(l=0, r=0, t=0, b=0),
              paper_bgcolor="white", plot_bgcolor="white", showlegend=False)

box = dict(showline=True, mirror=True, linecolor="black", linewidth=1.5,
           showgrid=False, zeroline=False, showticklabels=False, ticks="",
           fixedrange=True)

annotations = []
mono = dict(family="DejaVu Sans Mono", size=17, color="black")


def fx(p):
    return p / W


def fy(p):
    return 1 - p / H


for k, (curves, spec, cross, dots, heavy) in enumerate(PANELS):
    c, r = divmod(k, 4)
    left, split, right = COL_X[c]
    top, bot = ROW_Y[c][r]
    n_p, n_s = 2 * k + 1, 2 * k + 2
    xa_p = "xaxis" if n_p == 1 else f"xaxis{n_p}"
    ya_p = "yaxis" if n_p == 1 else f"yaxis{n_p}"
    xr_p = "x" if n_p == 1 else f"x{n_p}"
    yr_p = "y" if n_p == 1 else f"y{n_p}"
    # the portrait box draws only its left edge vertically; the shared
    # divider comes from the spectrum box so it is drawn once
    layout[xa_p] = dict(box, domain=[fx(left), fx(split)], range=[0, 1], anchor=yr_p)
    layout[ya_p] = dict(box, mirror=False, domain=[fy(bot), fy(top)], range=[0, 1], anchor=xr_p)
    layout[f"xaxis{n_s}"] = dict(box, domain=[fx(split), fx(right)], range=[0, W_MAX[c]],
                                anchor=f"y{n_s}")
    layout[f"yaxis{n_s}"] = dict(box, domain=[fy(bot), fy(top)], range=[0, 1],
                                anchor=f"x{n_s}")

    for i, crv in enumerate(curves):
        width = 2.6 if (heavy and i == 0) else (1.5 if heavy else 1.4)
        fig.add_trace(go.Scatter(
            x=[p[0] for p in crv], y=[p[1] for p in crv], mode="lines",
            line=dict(color="black", width=width, shape="spline", smoothing=0.9),
            xaxis=xr_p, yaxis=yr_p, hoverinfo="skip"))
    if dots:
        fig.add_trace(go.Scatter(
            x=[p[0] for p in dots], y=[p[1] for p in dots], mode="markers",
            marker=dict(symbol="square", size=3, color="black"),
            xaxis=xr_p, yaxis=yr_p, hoverinfo="skip"))
    if cross:
        fig.add_trace(go.Scatter(
            x=[cross[0]], y=[cross[1]], mode="markers",
            marker=dict(symbol="asterisk-open" if c == 2 else "x-thin", size=13,
                        color="black", line=dict(width=1.4, color="black")),
            xaxis=xr_p, yaxis=yr_p, hoverinfo="skip"))

    fig.add_trace(go.Scatter(
        x=[p[0] for p in spec], y=[p[1] for p in spec], mode="lines",
        line=dict(color="black", width=1.4),
        xaxis=f"x{n_s}", yaxis=f"y{n_s}", hoverinfo="skip"))

    annotations.append(dict(text=E_EXT[k], xref="paper", yref="paper",
                            x=fx(left + 2), y=fy(bot + 4), xanchor="left", yanchor="bottom",
                            showarrow=False, font=mono))

# axis symbols of the first panel
greek = dict(family="DejaVu Sans", size=17, color="black")
for txt, px, py, anchor, font in [
    ("j\u0307", 20, 21, "center", dict(greek, size=18)),
    ("S<span style='font-size:13px'>(\u03c9)</span>", 146, 23, "left", dict(greek, size=19)),
    ("E<span style='font-size:16px'>ext</span>=", 8, 101, "left", dict(mono, size=19)),
    ("J", 125, 123, "center", dict(greek, size=18)),
    ("\u03a9", 221, 107, "center", dict(greek, size=19)),
    ("\u03c9", 337, 124, "center", dict(greek, size=18)),
]:
    annotations.append(dict(text=txt, xref="paper", yref="paper", x=fx(px), y=fy(py),
                            xanchor=anchor, yanchor="middle", showarrow=False, font=font))

# Omega marker on the first spectrum axis
layout["xaxis2"].update(ticks="inside", tickvals=[1.0], ticklen=14, tickwidth=1.5,
                        tickcolor="black")

layout["annotations"] = annotations
fig.update_layout(**layout)
fig.write_html("out.html")
